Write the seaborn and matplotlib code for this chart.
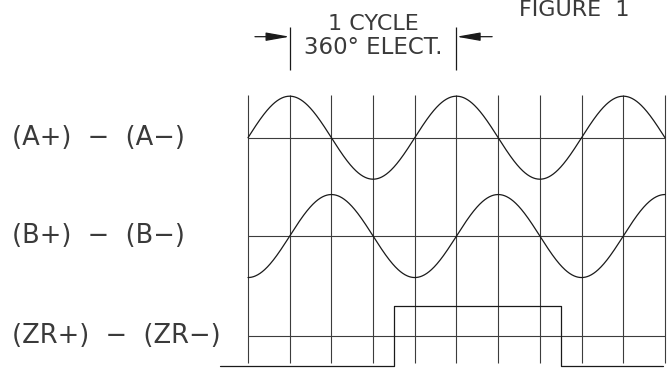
import matplotlib
matplotlib.use('Agg')
import numpy as np
import pandas as pd
import seaborn as sns
from matplotlib import pyplot as plt

sns.set_style("white")
plt.rcParams['font.family'] = ['DejaVu Sans']

# encoder output channels, x axis in electrical degrees
channels = ['(A+)  \u2212  (A\u2212)', '(B+)  \u2212  (B\u2212)', '(ZR+)  \u2212  (ZR\u2212)']
row_levels = [0.0, -2.37, -4.78]          # centre line of each trace
sine_phase = [0, 90]                      # B lags A by 90 deg
sine_amp = 1.0
trace_span = [0, 900]                     # 2.5 cycles drawn
grid_deg = list(range(0, 901, 90))        # vertical divisions
grid_top, grid_bottom = 1.03, -5.43
pulse_edges = [-60, 315, 675, 895]        # start, rise, fall, end
pulse_amp = 0.72
cycle_span = [90, 450]                    # "1 cycle" dimension

INK = '#1a1a1a'
TXT = '#3a3a3a'
GRID = '#3c3c3c'

fig = plt.figure(figsize=(6.69, 3.70), dpi=100)
ax = fig.add_axes([0, 0, 1, 1])
ax.set_xlim(-535.3, 908.7)
ax.set_ylim(-5.598, 3.318)
ax.axis('off')

# grid
ax.vlines(grid_deg, grid_bottom, grid_top, color=GRID, lw=0.8)
ax.hlines(row_levels, trace_span[0], trace_span[1], color=GRID, lw=0.8)

# sine channels A and B
deg = np.linspace(trace_span[0], trace_span[1], 901)
rows = []
for name, lvl, ph in zip(channels[:2], row_levels[:2], sine_phase):
    rows.append(pd.DataFrame({'deg': deg, 'val': lvl + sine_amp * np.sin(np.radians(deg - ph)), 'ch': name}))
df = pd.concat(rows)
sns.lineplot(data=df, x='deg', y='val', hue='ch', palette=[INK, INK], lw=0.9,
             legend=False, ax=ax, estimator=None, sort=False)

# index pulse
zr = row_levels[2]
lo, hi = zr - pulse_amp, zr + pulse_amp
px = [pulse_edges[0], pulse_edges[1], pulse_edges[1], pulse_edges[2], pulse_edges[2], pulse_edges[3]]
py = [lo, lo, hi, hi, lo, lo]
sns.lineplot(x=px, y=py, color=INK, lw=0.9, sort=False, estimator=None, ax=ax)

# channel labels
for name, lvl in zip(channels, row_levels):
    ax.text(-510, lvl - 0.17, name, ha='left', va='baseline', fontsize=18.5, color=TXT)

# cycle dimension
ax.vlines(cycle_span, 1.631, 2.675, color=INK, lw=0.9)
arr = dict(arrowstyle='-|>,head_length=0.45,head_width=0.08', color=INK, lw=0.9,
           shrinkA=0, shrinkB=0, mutation_scale=32)
ax.annotate('', xy=(cycle_span[0], 2.434), xytext=(15, 2.434), arrowprops=arr)
ax.annotate('', xy=(cycle_span[1], 2.434), xytext=(527, 2.434), arrowprops=arr)
mid = sum(cycle_span) / 2
ax.text(mid, 2.60, '1 CYCLE', ha='center', va='baseline', fontsize=16, color=TXT)
ax.text(mid, 2.02, '360\u00b0 ELECT.', ha='center', va='baseline', fontsize=16.5, color=TXT)
ax.text(585, 2.93, 'FIGURE  1', ha='left', va='baseline', fontsize=16, color=TXT)

fig.savefig('out.png', dpi=100)
